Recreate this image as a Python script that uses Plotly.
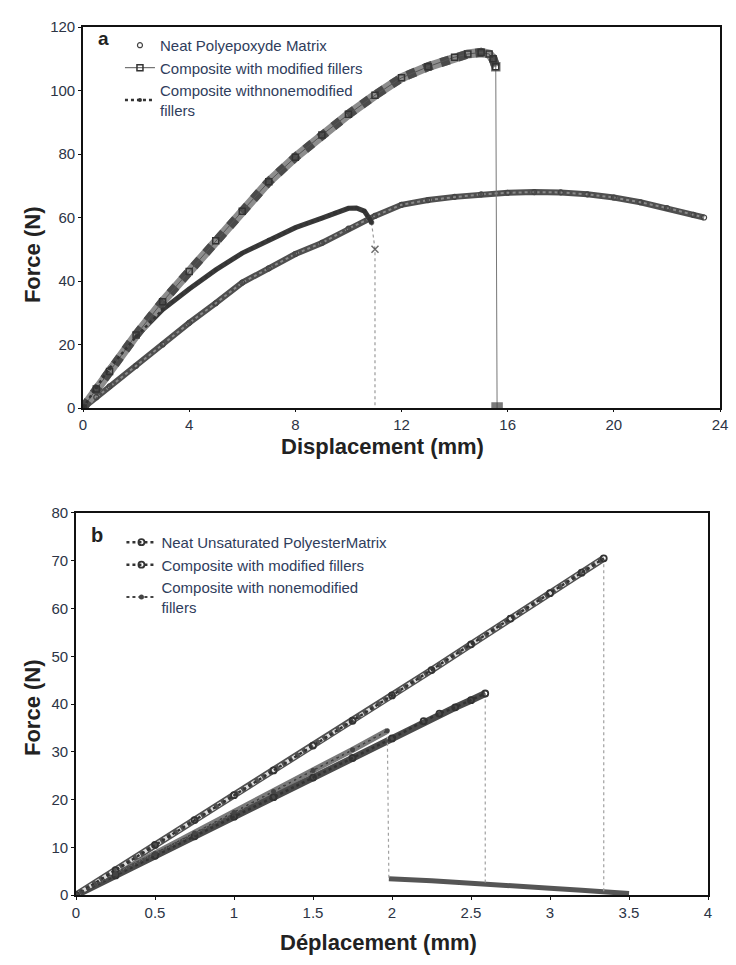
import plotly.graph_objects as go

# ---------------- Panel a : polyepoxyde ----------------
a_neat_x = [0, 0.5, 1, 2, 3, 4, 5, 6, 7, 8, 9, 10, 11, 12, 13, 14, 15, 16, 17, 18, 19, 20, 21, 22, 23, 23.4]
a_neat_y = [0, 3.4, 6.8, 13.3, 20, 26.8, 33, 39.5, 44, 48.5, 52, 56.5, 60.5, 64, 65.5, 66.5, 67.3, 67.8, 68, 67.9, 67.3, 66.3, 64.8, 63, 60.8, 60]

a_mod_x = [0, 0.5, 1, 2, 3, 4, 5, 6, 7, 8, 9, 10, 11, 12, 13, 14, 14.5, 15, 15.3, 15.45, 15.55]
a_mod_y = [0, 6, 11.5, 23, 33.5, 43, 52.7, 62, 71.3, 79, 86, 92.5, 98.5, 104, 107.5, 110.5, 111.5, 112, 111.5, 110, 107.5]
a_mod_drop_x = [0, None, 15.55, 15.6]
a_mod_drop_y = [0, None, 107.5, 0]

a_non_x = [0, 0.5, 1, 2, 3, 4, 5, 6, 7, 8, 9, 9.5, 10, 10.3, 10.6, 10.8, 10.87]
a_non_y = [0, 6.5, 12.5, 22.5, 31, 37.5, 43.5, 48.8, 53, 56.8, 59.8, 61.5, 62.9, 63, 62, 59.5, 58.4]
a_non_drop_x = [10.87, 11.0, 11.0]
a_non_drop_y = [58.4, 50.0, 0]

# ---------------- Panel b : unsaturated polyester ----------------
b_neat_x = [0, 0.25, 0.5, 0.75, 1, 1.25, 1.5, 1.75, 2, 2.25, 2.5, 2.75, 3, 3.2, 3.34]
b_neat_y = [0, 5.2, 10.5, 15.7, 20.9, 26.1, 31.3, 36.5, 41.8, 47.1, 52.5, 57.9, 63.2, 67.5, 70.5]
b_neat_drop_x = [3.34, 3.34]
b_neat_drop_y = [70.5, 0.5]

b_mod_x = [0, 0.25, 0.5, 0.75, 1, 1.25, 1.5, 1.75, 2, 2.2, 2.3, 2.4, 2.5, 2.59]
b_mod_y = [0, 4.1, 8.2, 12.3, 16.4, 20.5, 24.6, 28.7, 32.8, 36.4, 38, 39.3, 40.8, 42.2]
b_mod_drop_x = [2.59, 2.59]
b_mod_drop_y = [42.2, 2.2]

b_non_x = [0, 0.25, 0.5, 0.75, 1, 1.25, 1.5, 1.75, 1.97]
b_non_y = [0, 4.4, 8.7, 13, 17.3, 21.7, 26.1, 30.4, 34.4]
b_non_drop_x = [1.97, 1.98]
b_non_drop_y = [34.4, 3.4]
b_tail_x = [1.98, 2.1, 2.25, 2.4, 2.6, 2.8, 3.0, 3.2, 3.4, 3.5]
b_tail_y = [3.4, 3.3, 3.0, 2.7, 2.2, 1.8, 1.4, 1.0, 0.6, 0.3]

names_a = ["Neat Polyepoxyde Matrix", "Composite with modified fillers", "Composite withnonemodified<br>fillers"]
names_b = ["Neat Unsaturated PolyesterMatrix", "Composite with modified fillers", "Composite with nonemodified<br>fillers"]

fig = go.Figure()

def band(x, y, xa, ya, width, color, dash="solid"):
    fig.add_trace(go.Scatter(x=x, y=y, xaxis=xa, yaxis=ya, mode="lines",
                             line=dict(color=color, width=width, dash=dash), showlegend=False,
                             hoverinfo="skip"))

# ----- bands (panel a)
band(a_neat_x, a_neat_y, "x", "y", 6, "#4f4f4f")
band(a_neat_x, a_neat_y, "x", "y", 2, "#8a8a8a", "dot")
band(a_non_x, a_non_y, "x", "y", 5, "#3a3a3a")
band(a_mod_x, a_mod_y, "x", "y", 9, "#8d8d8d")
band(a_mod_x, a_mod_y, "x", "y", 9, "#4a4a4a", "dot")

# drops (panel a)
fig.add_trace(go.Scatter(x=a_mod_drop_x, y=a_mod_drop_y, xaxis="x", yaxis="y", mode="lines+markers",
                         line=dict(color="#777777", width=1),
                         marker=dict(symbol=["square", "square", "square-open", "square"], size=[9, 9, 8, 10],
                                     color="#444444", line=dict(width=1.5, color="#444444")),
                         connectgaps=False, showlegend=False))
fig.add_trace(go.Scatter(x=a_non_drop_x, y=a_non_drop_y, xaxis="x", yaxis="y", mode="lines+markers",
                         line=dict(color="#9a9a9a", width=1.2, dash="dot"),
                         marker=dict(symbol=["circle", "x-thin", "circle"], size=[4, 7, 0],
                                     color="#333333", line=dict(width=1.5, color="#333333")),
                         showlegend=False))

# legend-bearing traces (panel a)
fig.add_trace(go.Scatter(x=a_neat_x, y=a_neat_y, xaxis="x", yaxis="y", mode="markers", name=names_a[0],
                         marker=dict(symbol="circle-open", size=5, color="#444444", line=dict(width=1.2)),
                         legend="legend"))
fig.add_trace(go.Scatter(x=a_mod_x, y=a_mod_y, xaxis="x", yaxis="y", mode="lines+markers", name=names_a[1],
                         line=dict(color="#555555", width=1),
                         marker=dict(symbol="square-open", size=6, color="#333333", line=dict(width=1.5)),
                         legend="legend"))
fig.add_trace(go.Scatter(x=a_non_x, y=a_non_y, xaxis="x", yaxis="y", mode="lines+markers", name=names_a[2],
                         line=dict(color="#333333", width=2.5, dash="dot"),
                         marker=dict(symbol="circle", size=4, color="#333333"),
                         legend="legend"))

# ----- bands (panel b)
band(b_neat_x, b_neat_y, "x2", "y2", 7, "#505050")
band(b_non_x, b_non_y, "x2", "y2", 6, "#7a7a7a")
band(b_mod_x, b_mod_y, "x2", "y2", 7, "#4a4a4a")
band(b_tail_x, b_tail_y, "x2", "y2", 5, "#555555")
band(b_neat_x, b_neat_y, "x2", "y2", 4, "#dddddd", "dot")
band(b_non_x, b_non_y, "x2", "y2", 2, "#cccccc", "dot")

for dx, dy in [(b_neat_drop_x, b_neat_drop_y), (b_mod_drop_x, b_mod_drop_y), (b_non_drop_x, b_non_drop_y)]:
    fig.add_trace(go.Scatter(x=dx, y=dy, xaxis="x2", yaxis="y2", mode="lines",
                             line=dict(color="#a0a0a0", width=1.2, dash="dot"), showlegend=False))

fig.add_trace(go.Scatter(x=b_neat_x, y=b_neat_y, xaxis="x2", yaxis="y2", mode="lines+markers", name=names_b[0],
                         line=dict(color="#333333", width=2.5, dash="dot"),
                         marker=dict(symbol="circle-open", size=6, color="#333333", line=dict(width=1.8)),
                         legend="legend2"))
fig.add_trace(go.Scatter(x=b_mod_x, y=b_mod_y, xaxis="x2", yaxis="y2", mode="lines+markers", name=names_b[1],
                         line=dict(color="#333333", width=2.5, dash="dot"),
                         marker=dict(symbol="circle-open", size=6, color="#333333", line=dict(width=1.8)),
                         legend="legend2"))
fig.add_trace(go.Scatter(x=b_non_x, y=b_non_y, xaxis="x2", yaxis="y2", mode="lines+markers", name=names_b[2],
                         line=dict(color="#444444", width=2, dash="dot"),
                         marker=dict(symbol="circle", size=5, color="#444444"),
                         legend="legend2"))

tickfont = dict(family="Liberation Sans, Arial, sans-serif", size=15, color="#2c3445")
axis_common = dict(showline=True, linecolor="#111111", linewidth=1.6, mirror=True, ticks="outside",
                   ticklen=3, tickcolor="#111111", showgrid=False, zeroline=False, tickfont=tickfont,
                   automargin=False)

legfont = dict(family="Liberation Sans, Arial, sans-serif", size=15, color="#2f3d5c")

fig.update_layout(
    width=736, height=965,
    margin=dict(l=0, r=0, t=0, b=0),
    paper_bgcolor="white", plot_bgcolor="white",
    xaxis=dict(domain=[0.1128, 0.9783], range=[0, 24], dtick=4, anchor="y", **dict(axis_common, ticklen=2)),
    yaxis=dict(domain=[0.5772, 0.972], range=[0, 120], dtick=20, anchor="x", **axis_common),
    xaxis2=dict(domain=[0.1033, 0.9620], range=[0, 4], dtick=0.5, anchor="y2", **axis_common),
    yaxis2=dict(domain=[0.0725, 0.4684], range=[0, 80], dtick=10, anchor="x2", **axis_common),
    legend=dict(x=0.163, y=0.97, xanchor="left", yanchor="top", bgcolor="rgba(0,0,0,0)",
                font=legfont, tracegroupgap=0, itemwidth=30),
    legend2=dict(x=0.165, y=0.455, xanchor="left", yanchor="top", bgcolor="rgba(0,0,0,0)",
                 font=legfont, tracegroupgap=0, itemwidth=30),
    showlegend=True,
)

title_font = dict(family="Liberation Sans, Arial, sans-serif", size=22, color="#222222")
ann = [
    dict(text="<b>Displacement (mm)</b>", x=0.520, y=0.5368, font=title_font),
    dict(text="<b>Force (N)</b>", x=0.045, y=0.7358, textangle=-90, font=title_font),
    dict(text="<b>Déplacement (mm)</b>", x=0.5136, y=0.0238, font=title_font),
    dict(text="<b>Force (N)</b>", x=0.0435, y=0.2663, textangle=-90, font=title_font),
    dict(text="<b>a</b>", x=0.140, y=0.9606, font=dict(title_font, size=19)),
    dict(text="<b>b</b>", x=0.1318, y=0.4456, font=dict(title_font, size=20)),
]
for a in ann:
    fig.add_annotation(xref="paper", yref="paper", showarrow=False, xanchor="center", yanchor="middle", **a)

fig.write_html("out.html")
